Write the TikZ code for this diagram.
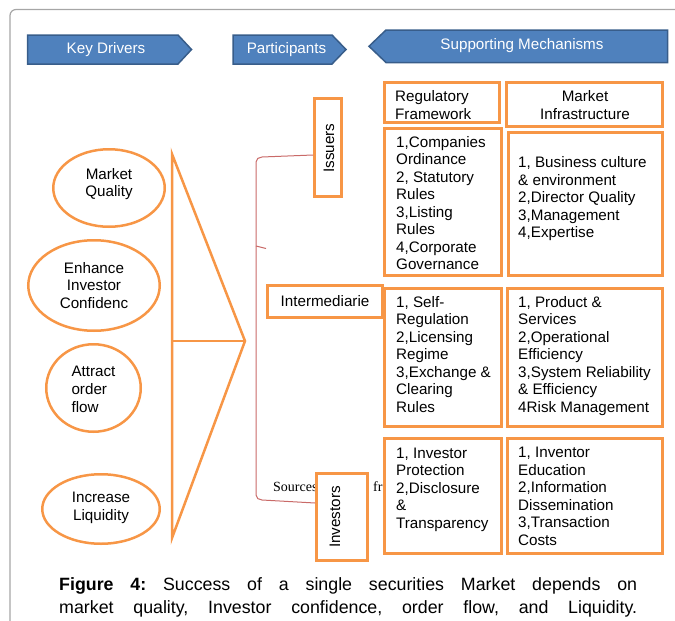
\documentclass[tikz,border=0pt]{standalone}
\usepackage{fontspec}
\setmainfont{Liberation Sans}
\newfontfamily\serifsrc{Liberation Serif}
\usetikzlibrary{shapes.geometric}
\definecolor{orng}{HTML}{F79646}
\definecolor{blfill}{HTML}{4F81BD}
\definecolor{bldraw}{HTML}{385D8A}
\definecolor{brk}{HTML}{C0504D}
\definecolor{frm}{HTML}{A6A6A6}
\begin{document}
\begin{tikzpicture}[x=1pt,y=-1pt,
  hdr/.style={fill=blfill,draw=bldraw,line width=1.5pt,line join=miter},
  hdrtext/.style={text=white,font=\fontsize{15.2}{17.5}\selectfont,inner sep=0},
  obox/.style={draw=orng,line width=3.3pt,fill=white,inner sep=0},
  ell/.style={ellipse,draw=orng,line width=2.5pt,inner sep=0},
  body/.style={font=\fontsize{15.2}{17.5}\selectfont,align=left,inner sep=0,anchor=north west},
  ctext/.style={font=\fontsize{15.2}{17.5}\selectfont,align=center,inner sep=0},
  etext/.style={font=\fontsize{15.2}{17.8}\selectfont,align=center,inner sep=0},
  tri/.style={draw=orng,line width=2.5pt,line join=miter},
  brace/.style={draw=brk!85,line width=1pt},
  srctext/.style={font=\serifsrc\fontsize{14}{16}\selectfont,inner sep=0,anchor=base west},
]
\useasboundingbox (0,0) rectangle (675,621);
\clip (0,0) rectangle (675,621);
% frame
\draw[frm,line width=1.2pt,rounded corners=6pt] (10,640) -- (10,9.5) -- (690,9.5);

% header arrows
\draw[hdr] (27.7,35) -- (178,35) -- (191.5,49.5) -- (178,64) -- (27.7,64) -- cycle;
\node[hdrtext] (kd) at (106,50) {Key Drivers};
\draw[hdr] (233,35) -- (332,35) -- (346,49.5) -- (332,64) -- (233,64) -- cycle;
\node[hdrtext] (pa) at (286.5,50) {Participants};
\draw[hdr] (369,46.3) -- (386,30) -- (667.5,30) -- (667.5,62.5) -- (386,62.5) -- cycle;
\node[hdrtext] (sm) at (522,46) {Supporting Mechanisms};

% key drivers ellipses
\node[ell,minimum width=111.5,minimum height=77.5] (mq) at (109,188) {};
\node[etext] (mqt) at (109,184) {Market\\Quality};
\node[ell,minimum width=131.5,minimum height=90.5] (eic) at (94,285.5) {};
\node[etext] (eict) at (94,285.5) {Enhance\\Investor\\Confidenc};
\node[ell,minimum width=94.5,minimum height=87.5] (aof) at (93.5,388) {};
\node[etext,align=left] (aoft) at (93.5,389.5) {Attract\\order\\flow};
\node[ell,minimum width=117.5,minimum height=69.5] (il) at (101,509) {};
\node[etext] (ilt) at (101,508) {Increase\\Liquidity};

% triangle
\draw[tri] (172,154) -- (245,341) -- (172,538) -- cycle;
\draw[tri] (172,341) -- (245,341);

% sources text (partly hidden)
\node[srctext] (src) at (273,491.5) {Sources};
\node[srctext] (srcfr) at (373,491.5) {fr};

% participants
\node[obox,minimum width=26.7,minimum height=97.7] (iss) at (328,147.5) {};
\node[ctext,rotate=90] (isst) at (329,148) {Issuers};
\node[obox,minimum width=114.7,minimum height=31.7,font=\fontsize{15.2}{17.5}\selectfont] (inter) at (325,301.5) {Intermediarie};
\node[obox,minimum width=50.7,minimum height=86.7] (inv) at (342,517) {};
\node[ctext,rotate=90] (invt) at (335,517) {Investors};

% supporting mechanisms boxes
\node[obox,minimum width=114.7,minimum height=39.7] (rfh) at (442,102.5) {};
\node[body] (rfht) at (395,90.3) {Regulatory\\Framework};
\node[obox,minimum width=155.7,minimum height=43.7] (mih) at (584.5,104.5) {};
\node[ctext,anchor=north] (miht) at (585,90.3) {Market\\Infrastructure};

\node[obox,minimum width=116.7,minimum height=146.7] (r1) at (443,202) {};
\node[body] (r1t) at (396,136) {1,Companies\\Ordinance\\2, Statutory\\Rules\\3,Listing\\Rules\\4,Corporate\\Governance};
\node[obox,minimum width=153.7,minimum height=142.7] (m1) at (585.5,204) {};
\node[body] (m1t) at (518,156.6) {1, Business culture\\ \& environment\\2,Director Quality\\3,Management\\4,Expertise};

\node[obox,minimum width=116.7,minimum height=137.7] (r2) at (443,357.5) {};
\node[body] (r2t) at (396,296) {1, Self-\\Regulation\\2,Licensing\\Regime\\3,Exchange \&\\Clearing\\Rules};
\node[obox,minimum width=154.7,minimum height=137.7] (m2) at (585,357.5) {};
\node[body] (m2t) at (518,296) {1, Product \&\\Services\\2,Operational\\Efficiency\\3,System Reliability\\ \& Efficiency\\4Risk Management};

\node[obox,minimum width=116.7,minimum height=114.7] (r3) at (443,496) {};
\node[body] (r3t) at (396,447.6) {1, Investor\\Protection\\2,Disclosure\\ \&\\Transparency};
\node[obox,minimum width=154.7,minimum height=114.7] (m3) at (585,496) {};
\node[body] (m3t) at (518,447) {1, Inventor\\Education\\2,Information\\Dissemination\\3,Transaction\\Costs};

% bracket
\draw[brace] ([yshift=-7.5pt]iss.west) -- (262,157) to[out=180,in=90] (256,162) -- (256,495) to[out=-90,in=180] (262,500) -- ([yshift=14pt]inv.west);
\draw[brace] (256,246) -- (266,248.5);

% caption
\node[font=\fontsize{17.8}{23}\selectfont\frenchspacing,align=left,inner sep=0,anchor=north west] (cap) at (59,577) {\hbox to 578pt{\textbf{Figure 4:} Success of a single securities Market depends on}\\\hbox to 578pt{market quality, Investor confidence, order flow, and Liquidity.}};
\end{tikzpicture}
\end{document}
